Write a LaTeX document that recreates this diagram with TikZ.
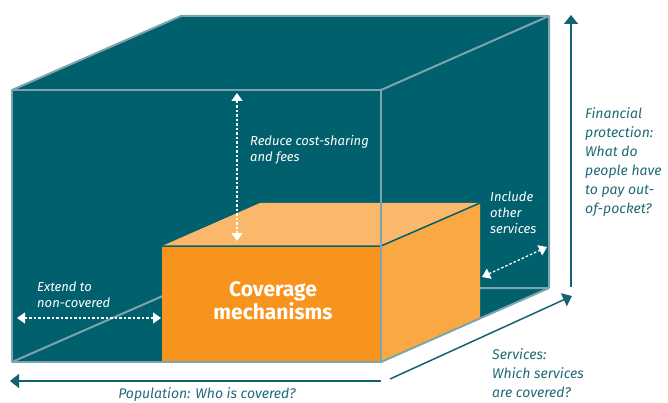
\documentclass[tikz,border=0pt]{standalone}
\usepackage{fontspec}
\setmainfont{Fira Sans}
\usetikzlibrary{arrows.meta}
\definecolor{tealfill}{HTML}{00606D}
\definecolor{edgec}{HTML}{7DA4AD}
\definecolor{orfront}{HTML}{F7941E}
\definecolor{ortop}{HTML}{FBB76B}
\definecolor{orright}{HTML}{F9A843}
\definecolor{axisc}{HTML}{15636F}
\definecolor{axistext}{HTML}{1F6A77}
\tikzset{
  cubeedge/.style={draw=edgec, line width=2pt, line join=round},
  boxedge/.style={draw=tealfill, line width=1.5pt},
  dasharrow/.style={white, line width=1.3pt, dash pattern=on 2.5pt off 2pt,
    {Triangle[width=11pt,length=8pt]}-{Triangle[width=11pt,length=8pt]}},
  axisarrow/.style={axisc, line width=1.5pt, -{Triangle[width=14pt,length=9pt]}},
  smalllbl/.style={inner sep=0pt, anchor=west, align=left, text=white,
    font=\fontsize{13}{16}\selectfont\itshape},
  axislbl/.style={inner sep=0pt, align=left, text=axistext,
    font=\fontsize{14}{19}\selectfont\itshape},
  mainlbl/.style={inner sep=0pt, align=center, text=white,
    font=\fontsize{21}{20}\selectfont\bfseries}
}
\begin{document}
\begin{tikzpicture}[x=1pt,y=-1pt]
\useasboundingbox (0,0) rectangle (668,403);
% outer cube corners
\coordinate (FTL) at (12,90);
\coordinate (FTR) at (381,90);
\coordinate (FBR) at (381,362);
\coordinate (FBL) at (12,362);
\coordinate (BTL) at (181,16);
\coordinate (BTR) at (549,16);
\coordinate (BBR) at (549,288);
\coordinate (BBL) at (181,288);
% inner box corners
\coordinate (OFTL) at (162,246);
\coordinate (OFTR) at (381,246);
\coordinate (OFBR) at (381,362);
\coordinate (OFBL) at (162,362);
\coordinate (OBTL) at (260,203);
\coordinate (OBTR) at (480,203);
\coordinate (OBBR) at (480,318.5);
% silhouette
\fill[tealfill] (FTL) -- (BTL) -- (BTR) -- (BBR) -- (FBR) -- (FBL) -- cycle;
% hidden/back edges
\draw[cubeedge] (FBL) -- (BBL) -- (BBR);
\draw[cubeedge] (FTL) -- (BTL) -- (BTR) -- (BBR);
\draw[cubeedge] (FTR) -- (BTR);
% orange box
\fill[ortop] (OFTL) -- (OBTL) -- (OBTR) -- (OFTR) -- cycle;
\fill[orright] (OFTR) -- (OBTR) -- (OBBR) -- (OFBR) -- cycle;
\fill[orfront] (OFTL) rectangle (OFBR);
\draw[boxedge] (OFTL) -- (OFTR) -- (OBTR);
% front edges
\draw[cubeedge] (FTL) rectangle (FBR);
\draw[cubeedge] (BBR) -- (FBR);
\node[mainlbl] (cov) at (273,301) {Coverage\\mechanisms};
% dashed arrows
\coordinate (RA1) at (237,93);
\coordinate (RA2) at (237,241);
\draw[dasharrow] (RA1) -- (RA2);
\node[smalllbl] (reduce) at (250,150) {Reduce cost-sharing\\and fees};
\coordinate (EA1) at (17,318);
\coordinate (EA2) at (161,318);
\draw[dasharrow] (EA1) -- (EA2);
\node[smalllbl] (extend) at (37,295) {Extend to\\non-covered};
\coordinate (IA1) at (482,277);
\coordinate (IA2) at (547,247);
\draw[dasharrow] (IA1) -- (IA2);
\node[smalllbl] (include) at (490,213) {Include\\other\\services};
% axes
\coordinate (VA1) at (571,287);
\coordinate (VA2) at (571,15);
\draw[axisarrow] (VA1) -- (VA2);
\node[axislbl, anchor=west] (fin) at (585,162.5) {Financial\\protection:\\What do\\people have\\to pay out-\\of-pocket?};
\coordinate (SA1) at (390,379);
\coordinate (SA2) at (572,296);
\draw[axisarrow] (SA1) -- (SA2);
\node[axislbl, anchor=west] (serv) at (492,373) {Services:\\Which services\\are covered?};
\coordinate (PA1) at (381,381);
\coordinate (PA2) at (10,381);
\draw[axisarrow] (PA1) -- (PA2);
\node[axislbl] (pop) at (207,395) {Population: Who is covered?};
\end{tikzpicture}
\end{document}
